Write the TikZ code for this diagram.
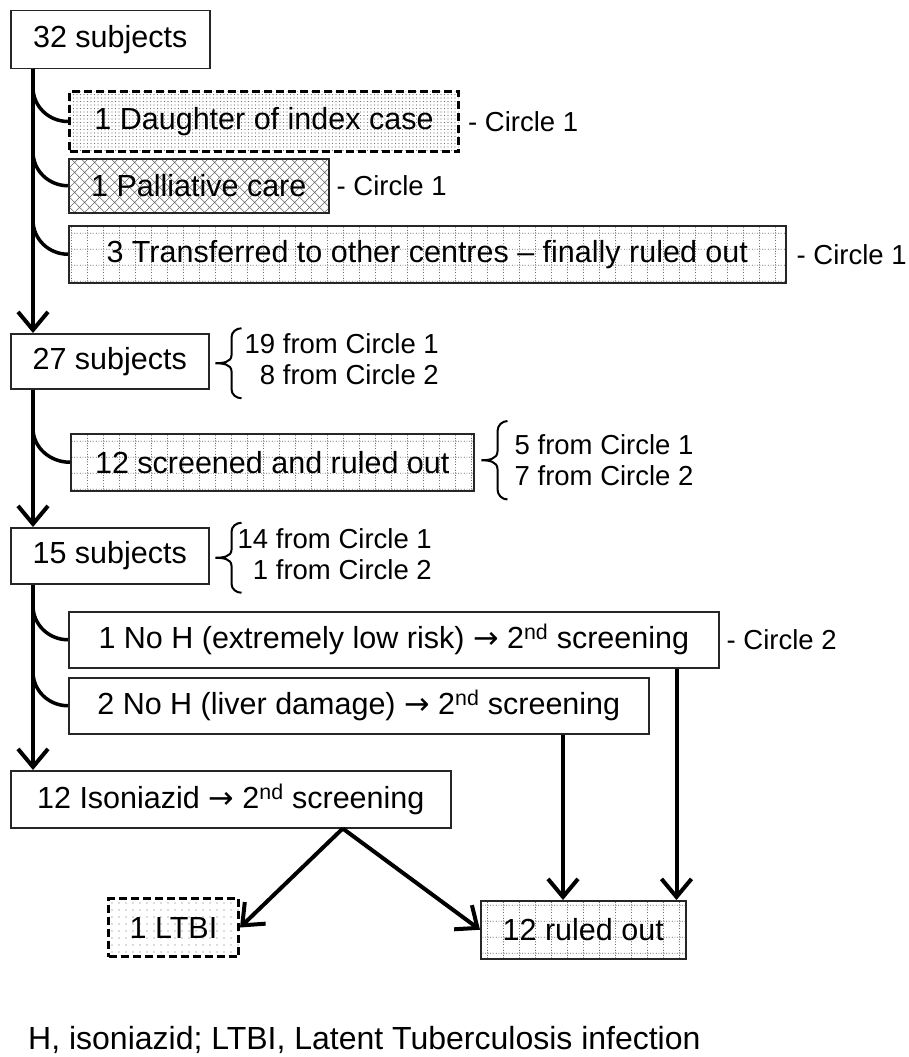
\documentclass[tikz,border=0pt]{standalone}
\usepackage{fontspec}
\setmainfont{Liberation Sans}
\newfontfamily\arrowfont{DejaVu Sans}
\usetikzlibrary{arrows.meta, calc, patterns.meta}

\newcommand\flowfont{\fontsize{30.5}{31}\selectfont}
\newcommand\tagfont{\fontsize{27.5}{31}\selectfont}
\newcommand\thento{{\arrowfont\char"2192}}

% dotted grid fill
\pgfdeclarepattern{
  name=dotgrid, type=uncolored,
  bottom left={\pgfpoint{0pt}{0pt}},
  top right={\pgfpoint{16pt}{16pt}},
  tile size={\pgfpoint{16pt}{16pt}},
  code={
    \pgfsetlinewidth{0.8pt}
    \pgfsetdash{{1pt}{1.67pt}}{0pt}
    \pgfpathmoveto{\pgfpoint{0pt}{8pt}}
    \pgfpathlineto{\pgfpoint{16pt}{8pt}}
    \pgfpathmoveto{\pgfpoint{8pt}{0pt}}
    \pgfpathlineto{\pgfpoint{8pt}{16pt}}
    \pgfusepath{stroke}
  }
}
% wide cross hatch
\pgfdeclarepattern{
  name=widehatch, type=uncolored,
  bottom left={\pgfpoint{0pt}{0pt}},
  top right={\pgfpoint{10pt}{10pt}},
  tile size={\pgfpoint{10pt}{10pt}},
  code={
    \pgfsetlinewidth{0.6pt}
    \pgfpathmoveto{\pgfpoint{-1pt}{-1pt}}
    \pgfpathlineto{\pgfpoint{11pt}{11pt}}
    \pgfpathmoveto{\pgfpoint{-1pt}{11pt}}
    \pgfpathlineto{\pgfpoint{11pt}{-1pt}}
    \pgfusepath{stroke}
  }
}

\begin{document}
\begin{tikzpicture}[
  x=1pt, y=1pt,
  box/.style={
    draw=black!85, line width=1.5pt, anchor=north west,
    inner sep=0pt, font=\flowfont
  },
  dashbox/.style={
    box, draw=black, line width=3pt, dash pattern=on 8pt off 4pt
  },
  gridbox/.style={box, pattern=dotgrid, pattern color=black!60},
  tag/.style={anchor=west, inner sep=0pt, font=\tagfont},
  counts/.style={tag, align=right},
  link/.style={line width=3.5pt},
  arr/.style={line width=4pt, -{Straight Barb[length=18pt, width=30pt]}},
  countbrace/.pic={
    \draw[line width=2pt] (12,35) to[out=180, in=90] (2,26) -- (2,8)
      to[out=-90, in=0] (-14,0) to[out=0, in=90] (2,-8) -- (2,-26)
      to[out=-90, in=180] (12,-35);
  }
  ]
  \useasboundingbox (0,0) rectangle (909,-1057);
  \coordinate (trunk) at (33,0);

  % subjects
  \node[box, minimum width=199pt, minimum height=58pt] (s32) at (10,-10) {32 subjects};
  \node[box, minimum width=198pt, minimum height=55pt] (s27) at (10,-333) {27 subjects};
  \node[box, minimum width=198pt, minimum height=56pt] (s15) at (10,-527) {15 subjects};
  \node[box, minimum width=440pt, minimum height=57pt] (iso) at (10,-770)
    {12 Isoniazid \thento\ 2\textsuperscript{nd} screening};

  % exclusions
  \node[dashbox, minimum width=389pt, minimum height=60pt,
    pattern={Dots[distance=3.5pt, radius=0.6pt]}, pattern color=black!55]
    (daughter) at (68,-90) {1 Daughter of index case};
  \node[box, minimum width=260pt, minimum height=54pt,
    pattern=widehatch, pattern color=black!60]
    (palliative) at (68,-158) {1 Palliative care};
  \node[gridbox, minimum width=717pt, minimum height=57pt] (transferred) at (68,-225)
    {3 Transferred to other centres -- finally ruled out};
  \node[gridbox, minimum width=403pt, minimum height=57pt] (screened) at (70,-433)
    {12 screened and ruled out};
  \node[box, minimum width=650pt, minimum height=56pt] (noh1) at (68,-611)
    {1 No H (extremely low risk) \thento\ 2\textsuperscript{nd} screening};
  \node[box, minimum width=580pt, minimum height=56pt] (noh2) at (68,-677)
    {2 No H (liver damage) \thento\ 2\textsuperscript{nd} screening};

  % outcomes
  \node[dashbox, minimum width=130pt, minimum height=58pt,
    pattern={Dots[distance=7pt, radius=0.7pt]}, pattern color=black!60]
    (ltbi) at (107,-897) {1 LTBI};
  \node[gridbox, minimum width=205pt, minimum height=58pt] (ruled) at (480,-900)
    {12 ruled out};

  % circle tags
  \node[tag] (tagdaughter) at ($(daughter.east)+(8,0)$) {- Circle 1};
  \node[tag] (tagpalliative) at ($(palliative.east)+(7,0)$) {- Circle 1};
  \node[tag] (tagtransferred) at ($(transferred.east)+(10,0)$) {- Circle 1};
  \node[tag] (tagnoh) at ($(noh1.east)+(7,0)$) {- Circle 2};

  % braces
  \pic at ($(s27.east)+(20,-2)$) {countbrace};
  \node[counts] (c27) at ($(s27.east)+(35,2)$) {19 from Circle 1\\8 from Circle 2};
  \pic[yscale=1.12] at ($(screened.east)+(21,2)$) {countbrace};
  \node[counts] (cscreened) at ($(screened.east)+(40,2)$) {5 from Circle 1\\7 from Circle 2};
  \pic at ($(s15.east)+(20,-2)$) {countbrace};
  \node[counts] (c15) at ($(s15.east)+(28,2)$) {14 from Circle 1\\1 from Circle 2};

  % trunk
  \draw[arr] (s32.south -| trunk) -- (s27.north -| trunk);
  \draw[arr] (s27.south -| trunk) -- (s15.north -| trunk);
  \draw[arr] (s15.south -| trunk) -- (iso.north -| trunk);

  % side branches
  \foreach \b in {daughter, palliative, transferred, screened, noh1, noh2}
    \draw[link] ($(\b.west -| trunk)+(0,34)$) to[out=-90, in=180] (\b.west);

  % into ruled out
  \coordinate (in1) at ($(ruled.north east)+(-10,0)$);
  \coordinate (in2) at ($(ruled.north west)+(83,0)$);
  \draw[arr] (noh1.south -| in1) -- (in1);
  \draw[arr] (noh2.south -| in2) -- (in2);
  \coordinate (split) at ($(iso.south)+(112,0)$);
  \draw[arr] (split) -- (ltbi.east);
  \draw[arr] (split) -- (ruled.west);

  \node[anchor=base west, inner sep=0pt, font=\fontsize{32}{34}\selectfont] (note) at (28,-1049)
    {H, isoniazid; LTBI, Latent Tuberculosis infection};
\end{tikzpicture}
\end{document}
